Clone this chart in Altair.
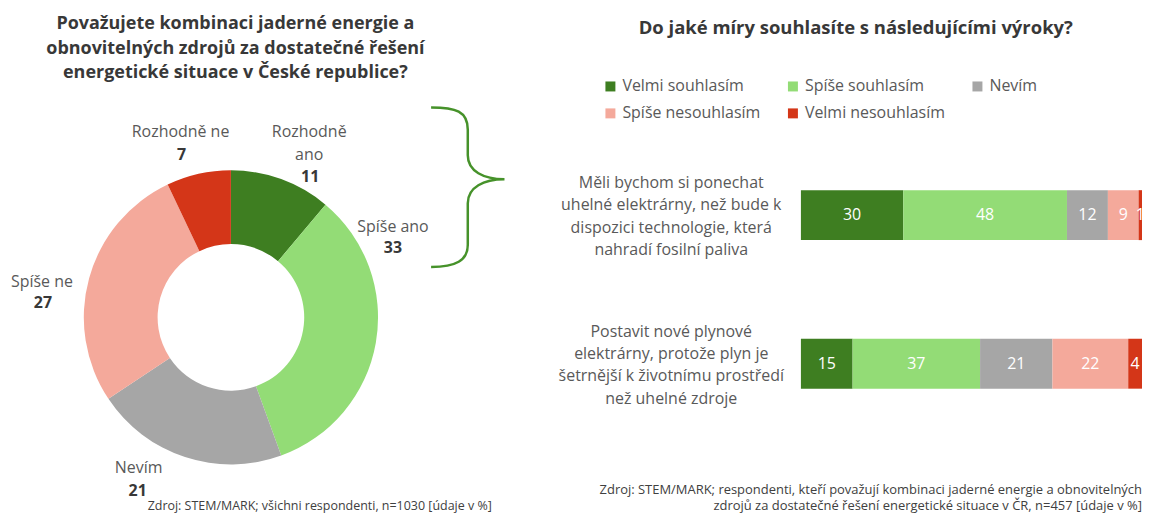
import altair as alt
import pandas as pd

FONT = "Open Sans"

# ---------------- data ----------------
LEFT_TITLE = ["Považujete kombinaci jaderné energie a",
              "obnovitelných zdrojů za dostatečné řešení",
              "energetické situace v České republice?"]
DONUT_CATS = ["Rozhodně ano", "Spíše ano", "Nevím", "Spíše ne", "Rozhodně ne"]
DONUT_VALUES = [11, 33, 21, 27, 7]
DONUT_COLORS = ["#3e7e21", "#93dc76", "#a6a6a6", "#f4a99b", "#d43618"]
LEFT_SOURCE = "Zdroj: STEM/MARK; všichni respondenti, n=1030 [údaje v %]"

RIGHT_TITLE = "Do jaké míry souhlasíte s následujícími výroky?"
RESP_CATS = ["Velmi souhlasím", "Spíše souhlasím", "Nevím", "Spíše nesouhlasím", "Velmi nesouhlasím"]
RESP_COLORS = ["#3e7e21", "#93dc76", "#a6a6a6", "#f4a99b", "#d43618"]
QUESTION_LINES = [
    ["Měli bychom si ponechat", "uhelné elektrárny, než bude k",
     "dispozici technologie, která", "nahradí fosilní paliva"],
    ["Postavit nové plynové", "elektrárny, protože plyn je",
     "šetrnější k životnímu prostředí", "než uhelné zdroje"],
]
Q1_VALUES = [30, 48, 12, 9, 1]
Q2_VALUES = [15, 37, 21, 22, 4]
RIGHT_SOURCE = ["Zdroj: STEM/MARK; respondenti, kteří považují kombinaci jaderné energie a obnovitelných",
                "zdrojů za dostatečné řešení energetické situace v ČR, n=457 [údaje v %]"]

# ---------------- layout (pixels, not data) ----------------
LEFT_W, RIGHT_W, H = 520, 617, 506
DONUT_CX, DONUT_CY, R_OUT, R_IN = 223.5, 309.5, 147.5, 73.5
# ny = position of the first line of the name label
LABEL_LAYOUT = {
    "Rozhodně ano": dict(text="Rozhodně\nano", nx=302, ny=124, vx=303, vy=169),
    "Spíše ano": dict(text="Spíše ano", nx=386, ny=219, vx=386, vy=240),
    "Nevím": dict(text="Nevím", nx=131, ny=461, vx=130, vy=484),
    "Spíše ne": dict(text="Spíše ne", nx=34, ny=274, vx=35, vy=295),
    "Rozhodně ne": dict(text="Rozhodně ne", nx=173, ny=124, vx=174, vy=147),
}
BRACE_PATH = ("M -0.46 -1 C -0.15 -1 0 -0.95 0 -0.72 L 0 -0.4 "
              "C 0 -0.2 0.2 -0.1 0.46 -0.1 C 0.2 -0.1 0 0 0 0.2 "
              "L 0 0.72 C 0 0.92 -0.15 1 -0.46 1")
GREEN_BRACE = "#46922a"
TEXT_GRAY = "#595959"
DARK = "#383838"
Q_LINE_H = 22.5

# ---------------- left panel ----------------
donut_df = pd.DataFrame({"cat": DONUT_CATS, "value": DONUT_VALUES, "order": list(range(len(DONUT_CATS)))})

arc = alt.Chart(donut_df).mark_arc(radius=R_OUT, radius2=R_IN).encode(
    theta=alt.Theta("value:Q", stack=True),
    order=alt.Order("order:Q"),
    color=alt.Color("cat:N", scale=alt.Scale(domain=DONUT_CATS, range=DONUT_COLORS), legend=None),
    x=alt.value(DONUT_CX), y=alt.value(DONUT_CY),
)

lab_df = pd.DataFrame({
    "name": [LABEL_LAYOUT[c]["text"] for c in DONUT_CATS],
    "val": [str(v) for v in DONUT_VALUES],
    "nx": [LABEL_LAYOUT[c]["nx"] for c in DONUT_CATS],
    "ny": [LABEL_LAYOUT[c]["ny"] for c in DONUT_CATS],
    "vx": [LABEL_LAYOUT[c]["vx"] for c in DONUT_CATS],
    "vy": [LABEL_LAYOUT[c]["vy"] for c in DONUT_CATS],
})
names = alt.Chart(lab_df).mark_text(font=FONT, fontSize=16, color=TEXT_GRAY, lineBreak="\n",
                                    lineHeight=22.5, align="center", baseline="middle").encode(
    x=alt.X("nx:Q", scale=None), y=alt.Y("ny:Q", scale=None), text="name:N")
vals = alt.Chart(lab_df).mark_text(font=FONT, fontSize=16, fontWeight="bold", color=DARK,
                                   align="center", baseline="middle").encode(
    x=alt.X("vx:Q", scale=None), y=alt.Y("vy:Q", scale=None), text="val:N")

left_title = alt.Chart(alt.Data(values=[{"t": "\n".join(LEFT_TITLE)}])).mark_text(
    font=FONT, fontSize=18, fontWeight="bold", color=DARK, lineBreak="\n", lineHeight=25,
    align="center", baseline="middle").encode(x=alt.value(228), y=alt.value(15), text="t:N")

left_source = alt.Chart(alt.Data(values=[{"t": LEFT_SOURCE}])).mark_text(
    font=FONT, fontSize=12.5, color="#404040", align="left", baseline="middle").encode(
    x=alt.value(140), y=alt.value(499), text="t:N")

brace = alt.Chart(alt.Data(values=[{"k": 1}])).mark_point(
    shape=BRACE_PATH, size=25600, filled=False, color=GREEN_BRACE, strokeWidth=2.5, opacity=1).encode(
    x=alt.value(461), y=alt.value(179))

left = alt.layer(arc, names, vals, left_title, left_source, brace).properties(width=LEFT_W, height=H)

# ---------------- right panel ----------------
QUESTIONS = ["\n".join(q) for q in QUESTION_LINES]
rows = []
for q, values in zip(QUESTIONS, [Q1_VALUES, Q2_VALUES]):
    for i, (r, v) in enumerate(zip(RESP_CATS, values)):
        rows.append({"q": q, "resp": r, "value": v, "order": i})
bar_df = pd.DataFrame(rows)

xs = alt.Scale(domain=[0, 1], range=[275, 617])
ys = alt.Scale(domain=QUESTIONS, range=[182, 381], paddingInner=0.664, paddingOuter=0)

base = alt.Chart(bar_df).transform_stack(
    stack="value", groupby=["q"], as_=["x0", "x1"], offset="normalize",
    sort=[alt.SortField("order", order="ascending")],
).transform_calculate(mid="(datum.x0 + datum.x1) / 2")

bars = base.mark_bar().encode(
    x=alt.X("x0:Q", scale=xs, axis=None),
    x2="x1:Q",
    y=alt.Y("q:N", scale=ys, axis=None),
    color=alt.Color("resp:N", scale=alt.Scale(domain=RESP_CATS, range=RESP_COLORS),
                    legend=alt.Legend(orient="none", legendX=76, legendY=70, title=None,
                                      direction="horizontal", columns=3, symbolType="square",
                                      symbolSize=100, symbolStrokeWidth=0, labelFont=FONT,
                                      labelFontSize=16, labelColor=TEXT_GRAY, labelOffset=4,
                                      columnPadding=24, rowPadding=11, padding=0,
                                      labelLimit=300)),
)
bar_text = base.mark_text(font=FONT, fontSize=16, color="white", align="center", baseline="middle").encode(
    x=alt.X("mid:Q", scale=xs, axis=None),
    y=alt.Y("q:N", scale=ys, axis=None),
    text=alt.Text("value:Q"),
)
q_labels = alt.Chart(pd.DataFrame({"q": QUESTIONS})).mark_text(
    font=FONT, fontSize=16, color=TEXT_GRAY, lineBreak="\n", lineHeight=Q_LINE_H,
    align="center", baseline="middle", dy=-1.5 * Q_LINE_H + 1.5).encode(
    x=alt.value(145), y=alt.Y("q:N", scale=ys, axis=None), text="q:N")

right_title = alt.Chart(alt.Data(values=[{"t": RIGHT_TITLE}])).mark_text(
    font=FONT, fontSize=18.5, fontWeight="bold", color=DARK, align="center", baseline="middle").encode(
    x=alt.value(330), y=alt.value(19), text="t:N")

right_source = alt.Chart(alt.Data(values=[{"t": "\n".join(RIGHT_SOURCE)}])).mark_text(
    font=FONT, fontSize=13, color="#404040", align="right", baseline="middle",
    lineBreak="\n", lineHeight=16).encode(
    x=alt.value(617), y=alt.value(483), text="t:N")

right = alt.layer(bars, bar_text, q_labels, right_title, right_source).properties(width=RIGHT_W, height=H)

chart = alt.hconcat(left, right, spacing=0).resolve_scale(
    color="independent", x="independent", y="independent"
).configure_view(stroke=None).properties(padding=0, background="white")

chart.save("out.html", embed_options={"renderer": "svg", "actions": False})
